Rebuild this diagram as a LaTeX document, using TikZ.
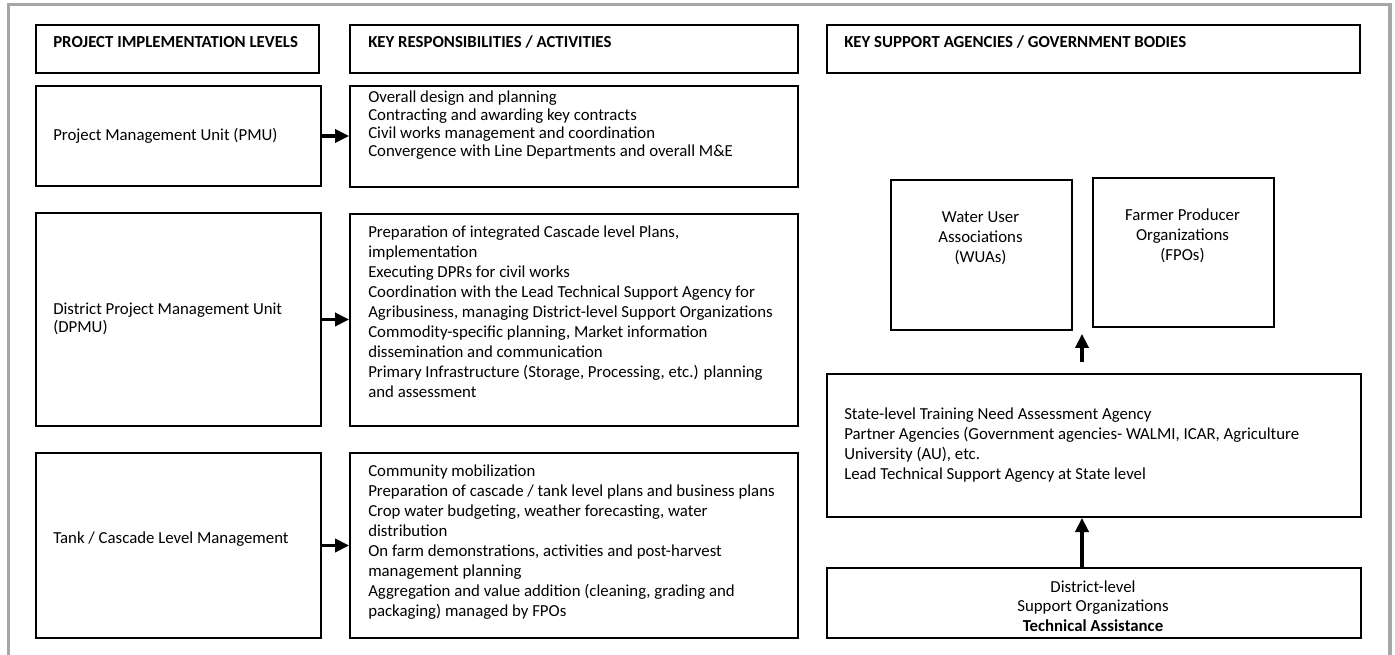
\documentclass[tikz,border=0pt]{standalone}
\usepackage{fontspec}
\setmainfont{Carlito}
\usetikzlibrary{arrows.meta,calc}
\definecolor{framegray}{HTML}{A6A6A6}
\newcommand\pxbox[5]{\node[box,minimum width=(#4-#2)*0.75pt,minimum height=(#5-#3)*0.75pt] (#1) at (#2,#3) {};}
\begin{document}
\begin{tikzpicture}[x=0.75pt,y=-0.75pt,
  box/.style={draw=black,line width=1.5pt,inner sep=0pt,anchor=north west},
  hdr/.style={font=\fontsize{12.6}{15}\selectfont\bfseries,anchor=base west,inner sep=0pt},
  txt/.style={font=\fontsize{12.6}{15}\selectfont,align=left,anchor=west,inner sep=0pt},
  ctxt/.style={font=\fontsize{12.6}{15}\selectfont,align=center,inner sep=0pt},
  arr/.style={line width=2.3pt,-{Triangle[width=10pt,length=10.5pt]}},
  frameline/.style={draw=framegray,line width=2.6pt}]
\useasboundingbox (0,0) rectangle (1395,655);
\draw[frameline] (8.5,670) -- (8.5,4.5) -- (1390,4.5) -- (1390,670);
% boxes
\pxbox{h1}{35}{24}{318}{72}
\pxbox{h2}{349}{24}{797}{72}
\pxbox{h3}{826}{24}{1359}{72}
\pxbox{pmu}{35}{85}{320}{185}
\pxbox{dpmu}{35}{212}{320}{425}
\pxbox{tank}{35}{452}{320}{637}
\pxbox{resp1}{349}{85}{797}{186}
\pxbox{resp2}{349}{213}{797}{425}
\pxbox{resp3}{349}{452}{797}{637}
\pxbox{wua}{890}{179}{1071}{329}
\pxbox{fpo}{1092}{177}{1273}{326}
\pxbox{state}{826}{373}{1360}{516}
\pxbox{district}{826}{567}{1360}{637}
% headers
\node[hdr] (h1t) at (53,48) {PROJECT IMPLEMENTATION LEVELS};
\node[hdr] (h2t) at (368,48) {KEY RESPONSIBILITIES / ACTIVITIES};
\node[hdr] (h3t) at (844,48) {KEY SUPPORT AGENCIES / GOVERNMENT BODIES};
% left column
\node[txt,anchor=base west] (pmut) at (53,141) {Project Management Unit (PMU)};
\node[txt,font=\fontsize{12.6}{13.5}\selectfont] (dpmut) at (53,319) {District Project Management Unit\\(DPMU)};
\node[txt,anchor=base west] (tankt) at (53,543) {Tank / Cascade Level Management};
% responsibilities
\node[txt,font=\fontsize{12.6}{13.5}\selectfont] (resp1t) at (368,125) {Overall design and planning\\Contracting and awarding key contracts\\Civil works management and coordination\\Convergence with Line Departments and overall M\&E};
\node[txt] (resp2t) at (368,312) {Preparation of integrated Cascade level Plans,\\implementation\\Executing DPRs for civil works\\Coordination with the Lead Technical Support Agency for\\Agribusiness, managing District-level Support Organizations\\Commodity-specific planning, Market information\\dissemination and communication\\Primary Infrastructure (Storage, Processing, etc.) planning\\and assessment};
\node[txt] (resp3t) at (368,542) {Community mobilization\\Preparation of cascade / tank level plans and business plans\\Crop water budgeting, weather forecasting, water\\distribution\\On farm demonstrations, activities and post-harvest\\management planning\\Aggregation and value addition (cleaning, grading and\\packaging) managed by FPOs};
% right column
\node[ctxt] (wuat) at (980.5,238) {Water User\\Associations\\(WUAs)};
\node[ctxt] (fpot) at (1182.5,236) {Farmer Producer\\Organizations\\(FPOs)};
\node[txt] (statet) at (844,445) {State-level Training Need Assessment Agency\\Partner Agencies (Government agencies- WALMI, ICAR, Agriculture\\University (AU), etc.\\Lead Technical Support Agency at State level};
\node[ctxt,font=\fontsize{12.6}{14.6}\selectfont] (districtt) at (1093,606) {District-level\\Support Organizations\\\textbf{Technical Assistance}};
% arrows
\draw[arr] (pmu.east) -- (pmu.east -| resp1.west);
\draw[arr] (dpmu.east) -- (dpmu.east -| resp2.west);
\draw[arr] (tank.east) -- (tank.east -| resp3.west);
\coordinate (tipA) at (1082,334);
\draw[arr,shorten <=8pt] (state.north -| tipA) -- (tipA);
\draw[arr] (district.north -| tipA) -- (state.south -| tipA);
\end{tikzpicture}
\end{document}
